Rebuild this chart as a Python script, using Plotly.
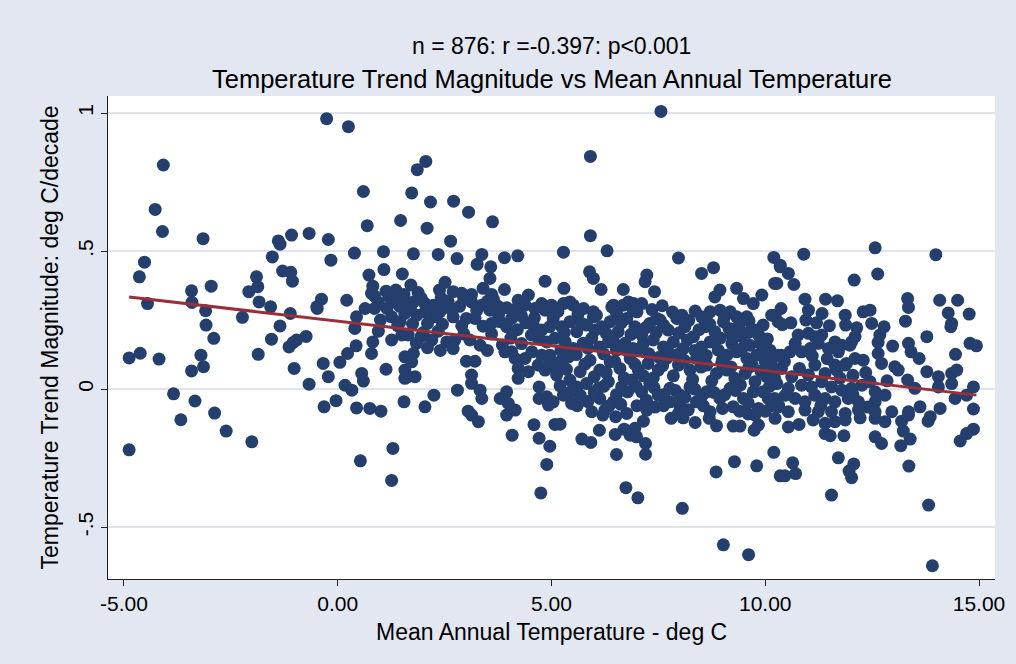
import plotly.graph_objects as go

# ---- data ----
pts_upper = [
    (-0.26, 0.98), (0.25, 0.951), (-4.08, 0.812), (-4.27, 0.651), (-4.10, 0.571), (-3.15, 0.545),
    (-1.39, 0.537), (-1.35, 0.525), (-1.08, 0.558), (-0.67, 0.564), (-0.22, 0.542), (-1.53, 0.479),
    (-4.52, 0.460), (2.06, 0.825), (1.86, 0.795), (0.60, 0.716), (1.73, 0.711), (2.17, 0.678),
    (2.71, 0.681), (3.06, 0.641), (3.62, 0.606), (0.69, 0.592), (1.47, 0.611), (2.09, 0.583),
    (2.64, 0.536), (0.39, 0.493), (1.07, 0.498), (1.77, 0.490), (2.35, 0.488), (2.79, 0.473),
    (3.37, 0.488), (3.90, 0.476), (4.21, 0.483), (-0.16, 0.467), (7.56, 1.006), (5.91, 0.843),
    (5.91, 0.556), (5.28, 0.496), (6.30, 0.501), (7.97, 0.475), (10.20, 0.477), (10.90, 0.489),
    (12.57, 0.512), (13.99, 0.487),
]

pts_lower = [
    (-4.88, -0.220), (-3.67, -0.111), (-2.88, -0.087), (-2.61, -0.152), (-2.01, -0.191),
    (1.01, -0.080), (1.29, -0.215), (0.53, -0.260), (1.26, -0.331), (3.13, -0.094), (3.29, -0.118),
    (3.95, -0.094), (4.08, -0.167), (4.59, -0.129), (4.71, -0.178), (4.96, -0.207), (4.89, -0.273),
    (4.75, -0.376), (5.08, -0.128), (5.20, -0.127), (5.71, -0.181), (5.92, -0.193), (6.12, -0.149),
    (6.49, -0.164), (6.20, -0.094), (6.50, -0.100), (6.70, -0.145), (6.84, -0.167), (6.99, -0.173),
    (6.95, -0.142), (7.15, -0.116), (7.20, -0.197), (7.20, -0.236), (6.52, -0.237), (6.74, -0.357),
    (7.02, -0.394), (8.06, -0.432), (7.80, -0.106), (8.08, -0.104), (8.36, -0.121), (8.69, -0.106),
    (8.86, -0.133), (9.25, -0.134), (9.41, -0.134), (9.74, -0.149), (9.84, -0.130), (9.76, -0.094),
    (10.23, -0.106), (8.85, -0.300), (9.28, -0.263), (9.80, -0.278), (10.20, -0.229), (10.35, -0.314),
    (9.02, -0.564), (9.61, -0.600), (10.64, -0.267), (10.46, -0.314), (10.71, -0.306), (11.71, -0.249),
    (12.07, -0.271), (11.96, -0.297), (12.02, -0.321), (11.55, -0.384), (13.36, -0.279), (13.82, -0.420),
    (13.91, -0.640), (14.56, -0.188), (14.71, -0.161), (14.87, -0.145), (13.17, -0.205), (13.39, -0.181),
    (13.23, -0.152), (12.57, -0.173), (12.72, -0.197), (11.84, -0.169), (11.40, -0.161), (11.52, -0.169),
    (10.54, -0.137), (10.79, -0.128), (13.81, -0.116), (13.19, -0.116), (11.12, -0.112), (11.40, -0.124),
    (11.63, -0.118), (11.87, -0.112), (12.22, -0.104), (12.57, -0.106), (12.80, -0.118), (13.35, -0.094),
]

pts_left = [
    (-4.64, 0.407), (-4.45, 0.310), (-4.88, 0.113), (-4.62, 0.130), (-4.18, 0.109), (-1.29, 0.428),
    (-1.10, 0.423), (-1.06, 0.391), (-1.90, 0.407), (-1.87, 0.371), (-2.08, 0.353), (-1.84, 0.316),
    (-1.57, 0.298), (-2.96, 0.373), (-3.42, 0.356), (-3.41, 0.314), (-3.09, 0.284), (-3.08, 0.232),
    (-2.90, 0.184), (-2.23, 0.260), (-1.35, 0.229), (-1.55, 0.181), (-1.11, 0.274), (-0.38, 0.326),
    (-0.49, 0.298), (-0.48, 0.292), (-1.14, 0.153), (-1.04, 0.169), (-0.96, 0.178), (-0.74, 0.191),
    (-1.86, 0.126), (-3.20, 0.123), (-3.14, 0.081), (-3.42, 0.066), (-1.02, 0.075), (-0.34, 0.093),
    (-0.22, 0.045), (-0.67, 0.018), (-3.84, -0.017), (-3.34, -0.043), (-0.32, -0.064),
]

pts_midleft = [
    (3.26, 0.452), (3.58, 0.443), (1.08, 0.433), (1.51, 0.417), (0.73, 0.413), (3.56, 0.401),
    (4.85, 0.391), (0.82, 0.373), (0.79, 0.347), (0.86, 0.337), (1.71, 0.377), (2.51, 0.387),
    (1.13, 0.355), (1.36, 0.359), (1.55, 0.343), (1.88, 0.350), (2.38, 0.359), (2.70, 0.353),
    (2.90, 0.347), (3.13, 0.343), (3.40, 0.365), (3.60, 0.343), (3.64, 0.326), (3.90, 0.361),
    (0.21, 0.322), (4.22, 0.322), (4.46, 0.341), (4.77, 0.310), (5.00, 0.304), (0.64, 0.292),
    (0.86, 0.292), (1.15, 0.292), (1.34, 0.316), (1.57, 0.310), (1.77, 0.316), (2.04, 0.310),
    (2.24, 0.304), (2.47, 0.304), (2.63, 0.292), (3.13, 0.316), (3.37, 0.304), (3.56, 0.286),
    (3.76, 0.268), (4.07, 0.256), (4.38, 0.304), (4.61, 0.292), (4.85, 0.286), (5.04, 0.268),
    (0.44, 0.262), (0.40, 0.220), (1.26, 0.262), (1.46, 0.244), (1.57, 0.274), (1.85, 0.268),
    (2.04, 0.280), (2.27, 0.262), (2.39, 0.280), (2.70, 0.262), (3.01, 0.256), (3.21, 0.256),
    (3.60, 0.238), (3.80, 0.244), (3.95, 0.226), (4.57, 0.232), (4.77, 0.214), (4.96, 0.226),
    (4.53, 0.196), (4.69, 0.184), (4.89, 0.171), (1.50, 0.196), (1.65, 0.196), (1.84, 0.166),
    (2.20, 0.178), (2.55, 0.171), (2.74, 0.178), (2.70, 0.147), (3.09, 0.178), (3.33, 0.159),
    (1.26, 0.178), (0.82, 0.171), (0.79, 0.129), (0.43, 0.157), (0.23, 0.129), (0.05, 0.097),
    (3.91, 0.135), (4.07, 0.135), (4.15, 0.111), (4.38, 0.111), (4.54, 0.135), (4.77, 0.123),
    (4.96, 0.099), (4.22, 0.075), (4.46, 0.063), (4.69, 0.087), (4.85, 0.069), (5.08, 0.081),
    (1.57, 0.117), (1.77, 0.129), (1.73, 0.099), (3.01, 0.101), (3.21, 0.101), (1.13, 0.072),
    (1.57, 0.069), (1.64, 0.045), (1.81, 0.045), (1.57, 0.039), (0.56, 0.057), (0.60, 0.029),
    (3.13, 0.051), (3.13, 0.021), (3.33, -0.004), (3.37, -0.034), (4.22, 0.039), (4.71, 0.008),
    (0.17, 0.014), (0.33, -0.004), (2.80, -0.004), (3.95, -0.010), (3.80, -0.034), (3.99, -0.052),
    (4.15, -0.076), (4.71, -0.034), (4.89, -0.028), (4.93, -0.058), (2.25, -0.022), (2.04, -0.064),
    (1.55, -0.046), (-0.04, -0.042), (0.44, -0.068), (0.75, -0.070), (3.05, -0.080),
    (0.95, 0.315), (1.20, 0.335), (1.45, 0.300), (1.70, 0.290), (1.95, 0.330), (2.15, 0.285),
    (2.42, 0.330), (2.58, 0.318), (2.85, 0.300), (2.95, 0.325), (3.25, 0.285), (3.50, 0.318),
    (3.75, 0.300), (3.95, 0.295), (4.15, 0.288), (4.30, 0.265), (4.60, 0.258), (1.00, 0.250),
    (1.40, 0.230), (1.75, 0.236), (2.10, 0.238), (2.45, 0.235), (2.90, 0.230), (3.40, 0.228),
    (4.20, 0.215), (4.40, 0.240), (2.00, 0.205), (2.35, 0.210), (2.95, 0.200), (3.60, 0.200),
    (4.05, 0.185), (4.30, 0.165), (3.85, 0.160), (3.50, 0.140), (2.40, 0.140), (2.10, 0.150),
    (1.95, 0.190), (0.95, 0.210),
]

pts_core = [
    (5.89, 0.425), (5.98, 0.401), (7.23, 0.413), (7.19, 0.389), (8.51, 0.419), (8.79, 0.440),
    (10.35, 0.443), (5.29, 0.365), (6.16, 0.361), (6.68, 0.361), (7.41, 0.353), (8.94, 0.359),
    (8.82, 0.334), (9.33, 0.365), (9.49, 0.328), (9.72, 0.310), (9.92, 0.341), (10.22, 0.383),
    (7.59, 0.302), (5.28, 0.310), (5.51, 0.304), (5.75, 0.292), (5.98, 0.280), (6.41, 0.298),
    (6.68, 0.304), (6.92, 0.310), (7.11, 0.310), (7.00, 0.280), (8.51, 0.262), (8.71, 0.280),
    (8.94, 0.286), (9.18, 0.280), (9.57, 0.262), (9.33, 0.262), (10.15, 0.268), (10.30, 0.244),
    (9.76, 0.214), (5.43, 0.316), (6.45, 0.304), (6.80, 0.316), (6.91, 0.286), (7.46, 0.256),
    (5.04, 0.256), (5.24, 0.226), (5.43, 0.244), (5.59, 0.208), (5.82, 0.232), (5.98, 0.262),
    (6.17, 0.226), (6.37, 0.244), (6.56, 0.208), (6.76, 0.256), (6.95, 0.226), (7.11, 0.196),
    (7.30, 0.238), (7.54, 0.250), (7.73, 0.214), (7.93, 0.256), (8.12, 0.226), (8.32, 0.190),
    (8.59, 0.226), (8.82, 0.208), (9.02, 0.244), (9.21, 0.196), (9.45, 0.190), (9.64, 0.159),
    (9.88, 0.166), (10.11, 0.141), (10.31, 0.123), (5.08, 0.184), (5.32, 0.171), (5.51, 0.147),
    (5.74, 0.166), (5.94, 0.184), (6.13, 0.153), (6.33, 0.171), (6.52, 0.141), (6.72, 0.166),
    (6.91, 0.147), (7.15, 0.166), (7.38, 0.178), (7.62, 0.153), (7.85, 0.171), (8.08, 0.147),
    (8.51, 0.153), (8.71, 0.171), (8.90, 0.141), (9.10, 0.123), (9.33, 0.135), (9.57, 0.111),
    (9.80, 0.123), (10.00, 0.099), (10.19, 0.075), (4.96, 0.123), (5.20, 0.099), (5.40, 0.117),
    (5.67, 0.063), (5.43, 0.033), (5.59, 0.008), (5.90, 0.105), (6.13, 0.069), (6.37, 0.099),
    (6.60, 0.075), (6.84, 0.111), (7.03, 0.069), (7.26, 0.093), (7.50, 0.069), (7.69, 0.111),
    (7.97, 0.087), (8.24, 0.069), (8.39, 0.111), (8.63, 0.087), (8.86, 0.057), (9.10, 0.069),
    (9.29, 0.039), (9.53, 0.057), (9.76, 0.027), (10.03, 0.045), (10.27, 0.020), (5.12, 0.051),
    (5.28, -0.022), (5.04, -0.046), (5.47, -0.052), (5.67, -0.022), (6.10, 0.003), (6.13, -0.034),
    (6.25, -0.076), (6.45, -0.046), (6.33, 0.027), (6.64, 0.008), (6.88, 0.033), (7.11, -0.010),
    (7.30, 0.020), (7.23, -0.076), (7.50, -0.022), (7.77, 0.003), (7.77, -0.046), (8.01, -0.022),
    (7.97, -0.088), (8.24, 0.008), (8.39, -0.046), (8.63, -0.010), (8.71, -0.082), (8.94, -0.034),
    (9.18, 0.003), (9.25, -0.064), (9.49, -0.034), (9.72, -0.010), (9.84, -0.070), (10.07, -0.034),
    (10.31, -0.058), (6.76, -0.088), (5.94, -0.082),
]

pts_core_fill = [
    (5.15, 0.282), (5.62, 0.271), (6.05, 0.268), (6.52, 0.276), (7.35, 0.288), (7.83, 0.279),
    (8.05, 0.268), (8.36, 0.283), (9.05, 0.262), (9.62, 0.247), (9.95, 0.232),
    (5.30, 0.205), (5.70, 0.238), (6.02, 0.214), (6.28, 0.202), (6.63, 0.240), (6.86, 0.198),
    (7.20, 0.222), (7.45, 0.205), (7.62, 0.232), (7.98, 0.203), (8.21, 0.249), (8.45, 0.215),
    (8.70, 0.236), (8.95, 0.185), (9.15, 0.220), (9.38, 0.228), (9.60, 0.205), (9.85, 0.195),
    (10.05, 0.182),
    (5.22, 0.140), (5.58, 0.125), (5.85, 0.148), (6.22, 0.128), (6.45, 0.175), (6.80, 0.135),
    (7.05, 0.145), (7.28, 0.128), (7.52, 0.115), (7.72, 0.138), (7.95, 0.125), (8.18, 0.178),
    (8.35, 0.140), (8.62, 0.122), (8.80, 0.175), (9.00, 0.105), (9.22, 0.165), (9.45, 0.145),
    (9.70, 0.085), (9.95, 0.132), (10.15, 0.105),
    (5.35, 0.072), (5.78, 0.090), (6.00, 0.045), (6.28, 0.060), (6.48, 0.100), (6.70, 0.040),
    (6.95, 0.090), (7.15, 0.048), (7.38, 0.040), (7.60, 0.085), (7.85, 0.048), (8.10, 0.105),
    (8.30, 0.035), (8.50, 0.080), (8.75, 0.030), (8.98, 0.095), (9.20, 0.080), (9.42, 0.015),
    (9.62, 0.080), (9.90, 0.065), (10.10, 0.010),
    (5.20, 0.012), (5.45, -0.010), (5.82, 0.020), (6.00, -0.012), (6.22, 0.010), (6.52, -0.020),
    (6.78, -0.010), (6.98, 0.010), (7.22, -0.040), (7.40, 0.005), (7.62, -0.020), (7.90, -0.005),
    (8.12, -0.030), (8.35, 0.000), (8.52, -0.025), (8.80, -0.012), (9.05, -0.020), (9.30, -0.005),
    (9.60, -0.050), (9.95, -0.010), (10.15, -0.060),
    (5.60, -0.060), (5.85, -0.045), (6.35, -0.060), (6.62, -0.055), (7.00, -0.060), (7.42, -0.065),
    (7.62, -0.060), (8.00, -0.060), (8.20, -0.075), (8.55, -0.060), (9.00, -0.070), (9.40, -0.080),
    (9.60, -0.090), (10.00, -0.080),
]

pts_right = [
    (10.35, 0.449), (10.54, 0.419), (10.67, 0.379), (10.27, 0.383), (12.08, 0.395), (12.63, 0.417),
    (10.93, 0.326), (11.01, 0.286), (11.41, 0.326), (11.69, 0.320), (11.33, 0.274), (10.37, 0.292),
    (10.23, 0.268), (10.40, 0.234), (11.87, 0.268), (11.88, 0.232), (12.29, 0.280), (12.45, 0.286),
    (12.49, 0.238), (13.33, 0.328), (13.35, 0.296), (13.28, 0.246), (14.08, 0.322), (14.50, 0.322),
    (14.28, 0.276), (14.36, 0.238), (14.34, 0.226), (14.77, 0.272), (13.78, 0.190), (14.79, 0.166),
    (14.94, 0.157), (14.45, 0.126), (13.35, 0.166), (13.41, 0.135), (13.60, 0.111), (12.78, 0.226),
    (12.68, 0.196), (12.64, 0.169), (12.98, 0.156), (12.14, 0.222), (12.10, 0.190), (11.98, 0.159),
    (12.29, 0.105), (11.90, 0.093), (11.67, 0.069), (12.64, 0.129), (12.72, 0.093), (13.03, 0.081),
    (13.11, 0.069), (13.78, 0.063), (14.05, 0.045), (14.36, 0.057), (14.48, 0.069), (13.33, 0.033),
    (13.50, 0.003), (14.05, 0.008), (14.36, 0.020), (14.87, 0.008), (14.87, -0.072), (14.44, -0.034),
    (14.71, -0.022), (14.09, -0.070), (13.86, -0.100), (10.77, 0.196), (11.01, 0.202), (11.16, 0.190),
    (11.32, 0.196), (11.63, 0.171), (10.70, 0.166), (10.58, 0.135), (10.38, 0.123), (10.85, 0.135),
    (11.05, 0.147), (11.24, 0.166), (11.48, 0.147), (11.79, 0.159), (12.02, 0.171), (11.71, 0.135),
    (11.87, 0.087), (11.63, 0.087), (12.10, 0.111), (11.16, 0.087), (11.40, 0.057), (11.01, 0.051),
    (10.62, 0.045), (10.38, 0.075), (10.22, 0.039), (10.54, 0.003), (10.85, 0.014), (11.08, 0.008),
    (11.32, 0.027), (11.55, 0.008), (11.79, -0.004), (12.02, 0.003), (12.26, 0.014), (12.45, 0.027),
    (12.57, -0.010), (12.80, -0.022), (12.57, -0.046), (12.18, -0.046), (11.94, -0.034), (11.63, -0.046),
    (11.40, -0.034), (11.16, -0.022), (10.93, -0.046), (10.70, -0.034), (10.47, -0.022), (10.22, -0.034),
    (10.31, -0.064), (10.54, -0.082), (10.93, -0.076), (11.24, -0.082), (11.55, -0.082), (11.87, -0.088),
    (12.18, -0.076), (12.57, -0.082), (12.96, -0.082), (13.35, -0.082), (13.62, -0.064),
    (10.45, 0.100), (10.80, 0.075), (11.10, 0.120), (11.45, 0.110), (11.75, 0.040), (12.05, 0.050),
    (12.35, 0.060), (12.85, 0.030), (11.30, -0.060), (12.40, -0.065), (12.05, -0.020), (10.60, 0.240),
    (10.95, 0.250), (11.50, 0.230), (11.20, 0.240),
]

fit_intercept = 0.2464
fit_slope = -0.01795

x_ticks = [-5, 0, 5, 10, 15]
x_ticklabels = ["-5.00", "0.00", "5.00", "10.00", "15.00"]
y_ticks = [-0.5, 0, 0.5, 1]
y_ticklabels = ["-.5", "0", ".5", "1"]

title_line1 = "n = 876: r =-0.397: p<0.001"
title_line2 = "Temperature Trend Magnitude vs Mean Annual Temperature"
x_title = "Mean Annual Temperature - deg C"
y_title = "Temperature Trend Magnitude: deg C/decade"

# ---- build ----
all_pts = pts_upper + pts_lower + pts_left + pts_midleft + pts_core + pts_core_fill + pts_right
mean_temp = [p[0] for p in all_pts]
trend = [p[1] for p in all_pts]

x_fit = [min(mean_temp), max(mean_temp)]
y_fit = [fit_intercept + fit_slope * v for v in x_fit]

BG = "#e3e7f1"
NAVY = "#243f6e"
MAROON = "#973038"
FONT = "Liberation Sans, Arial, sans-serif"

fig = go.Figure()
fig.add_trace(go.Scatter(x=mean_temp, y=trend, mode="markers",
                         marker=dict(size=13, color=NAVY, line=dict(width=0)),
                         hoverinfo="skip"))
fig.add_trace(go.Scatter(x=x_fit, y=y_fit, mode="lines",
                         line=dict(color=MAROON, width=3), hoverinfo="skip"))

fig.update_layout(
    width=1016, height=664,
    margin=dict(l=108, r=21, t=96, b=85),
    paper_bgcolor=BG, plot_bgcolor="white",
    showlegend=False,
    font=dict(family=FONT, color="black", size=20),
)
fig.update_xaxes(range=[-5.374, 15.374], tickvals=x_ticks, ticktext=x_ticklabels,
                 ticks="outside", ticklen=6, tickcolor="#222", tickwidth=1,
                 showline=True, linecolor="#222", linewidth=1,
                 showgrid=False, zeroline=False, tickfont=dict(size=21))
fig.update_yaxes(range=[-0.688, 1.062], tickvals=y_ticks, ticktext=y_ticklabels,
                 ticks="outside", ticklen=6, tickcolor="#222", tickwidth=1,
                 showline=True, linecolor="#222", linewidth=1,
                 showgrid=True, gridcolor="#dfe3ee", gridwidth=2,
                 zeroline=False, tickangle=-90, tickfont=dict(size=21))

ann = dict(xref="paper", yref="paper", showarrow=False)
fig.add_annotation(text=title_line1, x=0.5, y=1.1035, xanchor="center", yanchor="middle",
                   font=dict(family=FONT, size=23, color="black"), **ann)
fig.add_annotation(text=title_line2, x=0.5, y=1.0352, xanchor="center", yanchor="middle",
                   font=dict(family=FONT, size=25.5, color="black"), **ann)
fig.add_annotation(text=x_title, x=0.5, y=-0.1097, xanchor="center", yanchor="middle",
                   font=dict(family=FONT, size=23, color="black"), **ann)
fig.add_annotation(text=y_title, x=-0.0654, y=0.5, xanchor="center", yanchor="middle", textangle=-90,
                   font=dict(family=FONT, size=23, color="black"), **ann)

fig.write_html("out.html")
